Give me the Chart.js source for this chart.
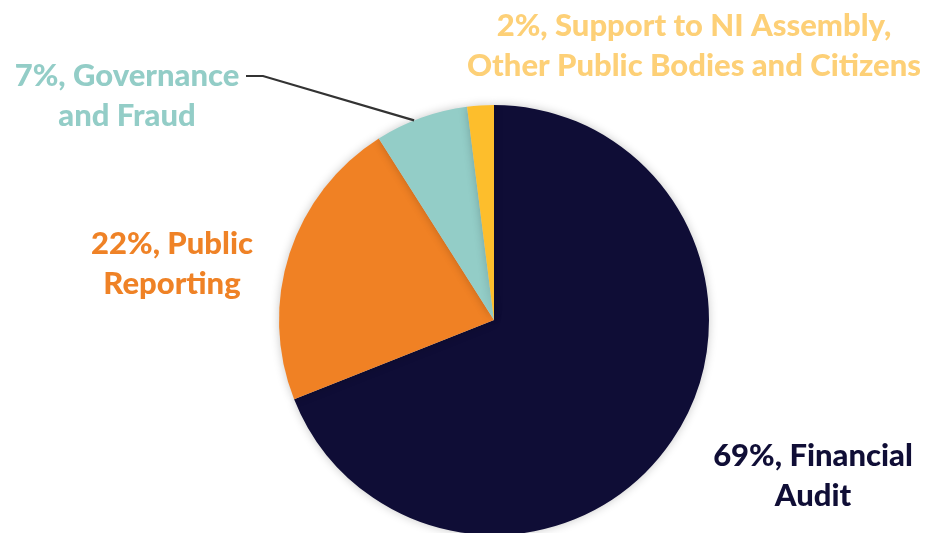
<!DOCTYPE html>
<html>
<head>
<meta charset="utf-8">
<script src="https://cdn.jsdelivr.net/npm/chart.js@4/dist/chart.umd.min.js"></script>
<style>
  html, body { margin: 0; padding: 0; background: #fff; overflow: hidden; }
  #wrap { width: 935px; height: 533px; overflow: hidden; position: relative; }
  #box { width: 935px; height: 640px; }
</style>
</head>
<body>
<div id="wrap"><div id="box"><canvas id="chart"></canvas></div></div>
<script>
const categories = ["Financial Audit", "Public Reporting", "Governance and Fraud", "Support to NI Assembly, Other Public Bodies and Citizens"];
const shares = [69, 22, 7, 2];
const sliceColors = ["#0f0d36", "#f08124", "#93cdc7", "#fdbe2c"];
const labelColors = ["#100e36", "#ef8226", "#93cdc7", "#fdd077"];
// label text split into lines as in the original
const labelLines = [
  ["69%, Financial", "Audit"],
  ["22%, Public", "Reporting"],
  ["7%, Governance", "and Fraud"],
  ["2%, Support to NI Assembly,", "Other Public Bodies and Citizens"]
];

// where each label block sits (center x, first baseline y)
const labelPos = [
  { x: 813, y: 466 },
  { x: 172, y: 254 },
  { x: 127, y: 86 },
  { x: 694, y: 36 }
];
const lineGap = 40;

const shadowPlugin = {
  id: "shadow",
  beforeDatasetsDraw(chart) {
    const ctx = chart.ctx;
    ctx.save();
    ctx.shadowColor = "rgba(0,0,0,0.22)";
    ctx.shadowBlur = 10;
  },
  afterDatasetsDraw(chart) {
    chart.ctx.restore();
  }
};

const labelPlugin = {
  id: "labels",
  afterDraw(chart) {
    const ctx = chart.ctx;
    const meta = chart.getDatasetMeta(0);
    ctx.save();
    ctx.font = "900 31px Lato, 'Open Sans', sans-serif";
    ctx.textAlign = "center";
    ctx.textBaseline = "alphabetic";
    labelLines.forEach((lines, i) => {
      ctx.fillStyle = labelColors[i];
      lines.forEach((t, j) => {
        ctx.fillText(t, labelPos[i].x, labelPos[i].y + j * lineGap);
      });
    });

    // leader line for the governance slice
    const arc = meta.data[2];
    const a = arc.startAngle + (arc.endAngle - arc.startAngle) * 0.42;
    const ex = arc.x + Math.cos(a) * arc.outerRadius;
    const ey = arc.y + Math.sin(a) * arc.outerRadius;
    ctx.strokeStyle = "#333333";
    ctx.lineWidth = 2.2;
    ctx.beginPath();
    ctx.moveTo(246, 76);
    ctx.lineTo(263, 76);
    ctx.lineTo(ex, ey);
    ctx.stroke();
    ctx.restore();
  }
};

new Chart(document.getElementById("chart"), {
  type: "pie",
  data: {
    labels: categories,
    datasets: [{
      data: shares,
      backgroundColor: sliceColors,
      borderWidth: 0
    }]
  },
  options: {
    responsive: true,
    maintainAspectRatio: false,
    animation: false,
    layout: { padding: { left: 279, right: 226, top: 105, bottom: 105 } },
    plugins: {
      legend: { display: false },
      tooltip: { enabled: false }
    }
  },
  plugins: [shadowPlugin, labelPlugin]
});
</script>
</body>
</html>
